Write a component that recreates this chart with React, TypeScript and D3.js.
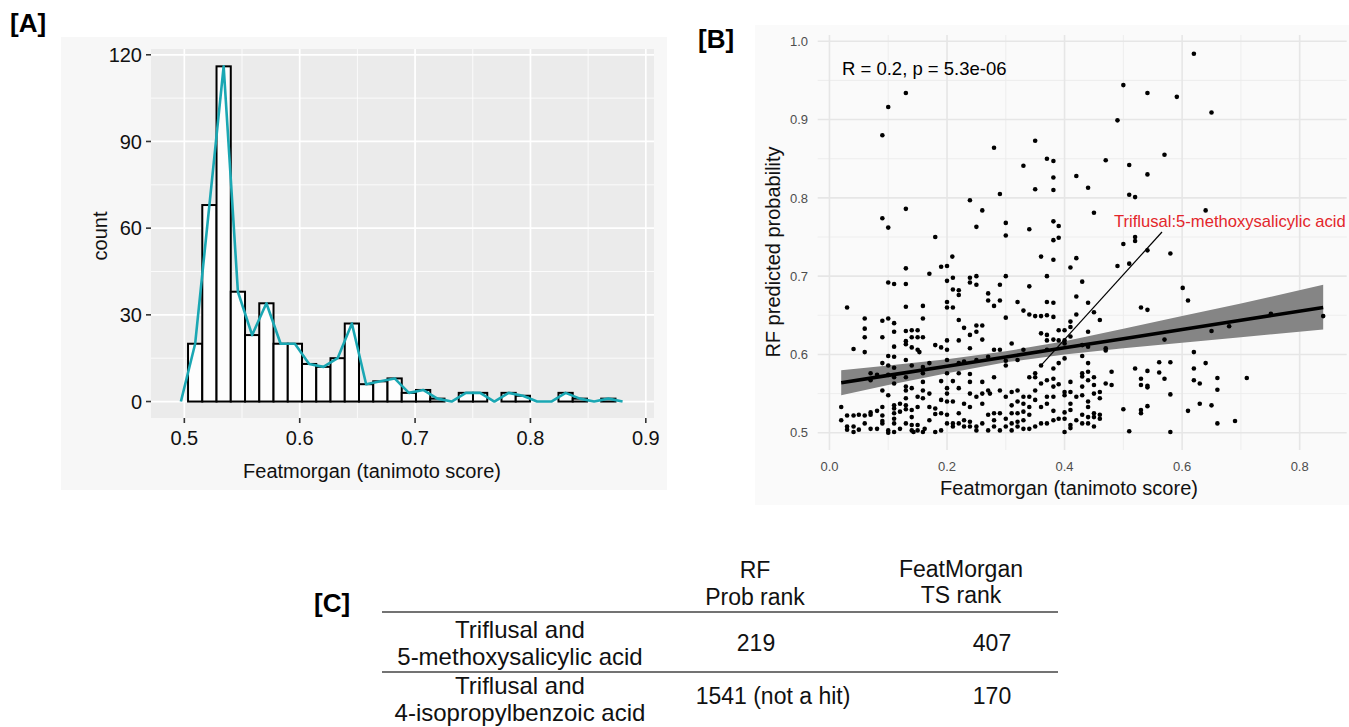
import React from 'react';
import * as d3 from 'd3';

// ---- panel A: histogram of featmorgan scores ----
const histCounts = [20, 68, 116, 38, 23, 34, 20, 20, 13, 12, 15, 27, 6, 7, 8, 3, 4, 1, 0, 3, 3, 0, 3, 2, 0, 0, 3, 1, 0, 1];
const binStart = 0.5032;
const binWidth = 0.01235;
const aXTicks = [0.5, 0.6, 0.7, 0.8, 0.9];
const aYTicks = [0, 30, 60, 90, 120];

// ---- panel B: RF probability vs featmorgan ----
const bXTicks = [0, 0.2, 0.4, 0.6, 0.8];
const bYTicks = [0.5, 0.6, 0.7, 0.8, 0.9, 1.0];
const corrLabel = 'R = 0.2, p = 5.3e-06';
const fitX = [0.02, 0.1, 0.2, 0.3, 0.4, 0.5, 0.6, 0.7, 0.84];
const fitY = [0.564, 0.5733, 0.585, 0.5968, 0.6085, 0.6202, 0.632, 0.6437, 0.6601];
const fitLo = [0.548, 0.561, 0.576, 0.59, 0.6, 0.608, 0.615, 0.622, 0.632];
const fitHi = [0.58, 0.586, 0.594, 0.604, 0.617, 0.633, 0.649, 0.665, 0.689];
const highlightPoint = [0.36, 0.586];
const highlightText = 'Triflusal:5-methoxysalicylic acid';

const scatterPoints = [
  [0.130,0.934],[0.100,0.916],[0.090,0.880],[0.090,0.774],[0.100,0.762],[0.130,0.786],[0.180,0.750],[0.190,0.712],
  [0.200,0.713],[0.209,0.725],[0.130,0.710],[0.239,0.797],[0.260,0.784],[0.250,0.763],[0.280,0.864],[0.290,0.805],
  [0.300,0.768],[0.300,0.752],[0.330,0.841],[0.350,0.873],[0.350,0.811],[0.370,0.850],[0.340,0.760],[0.360,0.725],
  [0.620,0.984],[0.500,0.944],[0.541,0.934],[0.591,0.929],[0.650,0.909],[0.490,0.899],[0.381,0.847],[0.470,0.848],
  [0.510,0.842],[0.570,0.855],[0.381,0.826],[0.420,0.828],[0.541,0.830],[0.381,0.810],[0.440,0.813],[0.510,0.804],
  [0.520,0.801],[0.450,0.781],[0.640,0.784],[0.381,0.770],[0.390,0.764],[0.381,0.746],[0.390,0.749],[0.500,0.741],
  [0.520,0.750],[0.520,0.745],[0.541,0.733],[0.580,0.729],[0.381,0.721],[0.420,0.723],[0.410,0.711],[0.490,0.713],
  [0.510,0.716],
  [0.030,0.660],[0.041,0.607],[0.020,0.533],[0.020,0.516],[0.030,0.522],[0.041,0.522],[0.050,0.523],[0.030,0.508],
  [0.041,0.508],[0.041,0.501],[0.030,0.504],[0.050,0.504],[0.060,0.646],[0.060,0.633],[0.060,0.622],[0.060,0.603],
  [0.060,0.512],[0.060,0.522],[0.070,0.576],[0.070,0.567],[0.070,0.526],[0.070,0.523],[0.070,0.505],[0.081,0.574],
  [0.081,0.528],[0.081,0.505],[0.090,0.643],[0.090,0.622],[0.090,0.589],[0.090,0.554],[0.090,0.533],[0.090,0.522],
  [0.090,0.515],[0.090,0.512],[0.100,0.692],[0.100,0.646],[0.100,0.598],[0.100,0.586],[0.100,0.574],[0.100,0.548],
  [0.100,0.503],[0.100,0.500],[0.110,0.690],[0.110,0.640],[0.110,0.629],[0.110,0.610],[0.110,0.597],[0.110,0.583],
  [0.110,0.571],[0.110,0.563],[0.110,0.535],[0.110,0.531],[0.110,0.525],[0.110,0.518],[0.110,0.512],[0.110,0.501],
  [0.120,0.537],[0.120,0.527],[0.120,0.505],[0.130,0.690],[0.130,0.661],[0.130,0.630],[0.130,0.617],[0.130,0.613],
  [0.130,0.593],[0.130,0.571],[0.130,0.559],[0.130,0.554],[0.130,0.544],[0.130,0.535],[0.130,0.530],[0.130,0.512],
  [0.140,0.631],[0.140,0.622],[0.140,0.609],[0.140,0.586],[0.140,0.557],[0.140,0.529],[0.140,0.520],[0.140,0.510],
  [0.140,0.503],[0.143,0.501],[0.150,0.631],[0.150,0.622],[0.150,0.606],[0.153,0.603],[0.150,0.546],[0.150,0.533],
  [0.150,0.510],[0.150,0.503],[0.159,0.662],[0.159,0.646],[0.159,0.622],[0.159,0.584],[0.159,0.576],[0.159,0.565],
  [0.159,0.554],[0.159,0.544],[0.159,0.501],[0.162,0.505],[0.170,0.703],[0.170,0.589],[0.170,0.550],[0.170,0.533],
  [0.170,0.516],[0.180,0.612],[0.180,0.531],[0.180,0.524],[0.180,0.501],[0.190,0.609],[0.190,0.566],[0.190,0.542],
  [0.190,0.525],[0.190,0.503],[0.200,0.694],[0.200,0.667],[0.200,0.660],[0.200,0.618],[0.200,0.606],[0.200,0.593],
  [0.200,0.576],[0.200,0.557],[0.200,0.550],[0.200,0.540],[0.200,0.523],[0.200,0.512],[0.210,0.698],[0.210,0.683],
  [0.210,0.660],[0.210,0.566],[0.210,0.540],[0.210,0.512],[0.210,0.508],[0.220,0.682],[0.220,0.676],[0.220,0.644],
  [0.220,0.618],[0.220,0.589],[0.220,0.576],[0.220,0.557],[0.220,0.525],[0.220,0.512],[0.229,0.634],[0.229,0.591],
  [0.229,0.537],[0.229,0.516],[0.229,0.508],[0.239,0.698],[0.239,0.692],[0.239,0.625],[0.239,0.608],[0.239,0.575],
  [0.239,0.565],[0.239,0.550],[0.239,0.533],[0.239,0.514],[0.239,0.508],[0.250,0.700],[0.250,0.689],[0.250,0.637],
  [0.250,0.629],[0.250,0.593],[0.250,0.546],[0.250,0.508],[0.250,0.503],[0.260,0.637],[0.260,0.619],[0.260,0.565],
  [0.260,0.550],[0.260,0.537],[0.260,0.512],[0.270,0.678],[0.270,0.669],[0.270,0.597],[0.270,0.554],[0.273,0.550],
  [0.270,0.523],[0.270,0.503],[0.280,0.662],[0.280,0.606],[0.280,0.571],[0.280,0.525],[0.280,0.516],[0.280,0.508],
  [0.290,0.689],[0.290,0.669],[0.290,0.606],[0.290,0.554],[0.290,0.525],[0.290,0.503],[0.300,0.700],[0.300,0.647],
  [0.300,0.592],[0.300,0.586],[0.300,0.546],[0.300,0.518],[0.300,0.508],[0.310,0.614],[0.310,0.552],[0.310,0.535],
  [0.310,0.525],[0.310,0.512],[0.310,0.503],[0.320,0.667],[0.320,0.593],[0.320,0.554],[0.320,0.540],[0.320,0.525],
  [0.320,0.514],[0.320,0.508],[0.330,0.656],[0.330,0.606],[0.330,0.546],[0.330,0.537],[0.330,0.527],[0.330,0.516],
  [0.330,0.505],[0.340,0.687],[0.340,0.651],[0.340,0.571],[0.340,0.546],[0.340,0.533],[0.340,0.523],[0.340,0.505],
  [0.350,0.649],[0.350,0.576],[0.350,0.571],[0.350,0.554],[0.350,0.542],[0.350,0.508],[0.360,0.649],[0.360,0.627],
  [0.360,0.586],[0.360,0.563],[0.360,0.533],[0.360,0.512],[0.370,0.700],[0.370,0.667],[0.370,0.650],[0.370,0.625],
  [0.370,0.618],[0.370,0.606],[0.370,0.567],[0.370,0.546],[0.370,0.537],[0.370,0.512],
  [0.381,0.666],[0.381,0.648],[0.381,0.619],[0.381,0.582],[0.381,0.569],[0.381,0.559],[0.381,0.546],[0.381,0.528],
  [0.381,0.516],[0.390,0.631],[0.390,0.618],[0.390,0.589],[0.390,0.562],[0.390,0.518],[0.400,0.631],[0.400,0.618],
  [0.400,0.614],[0.400,0.595],[0.400,0.552],[0.400,0.548],[0.400,0.526],[0.400,0.518],[0.400,0.501],[0.410,0.642],
  [0.410,0.635],[0.410,0.623],[0.410,0.565],[0.410,0.552],[0.410,0.537],[0.410,0.529],[0.410,0.510],[0.410,0.506],
  [0.420,0.674],[0.420,0.651],[0.420,0.546],[0.420,0.516],[0.430,0.693],[0.430,0.612],[0.430,0.598],[0.430,0.576],
  [0.430,0.572],[0.430,0.559],[0.430,0.548],[0.430,0.523],[0.430,0.512],[0.440,0.666],[0.440,0.629],[0.440,0.610],
  [0.440,0.589],[0.440,0.578],[0.440,0.567],[0.440,0.540],[0.440,0.533],[0.440,0.520],[0.440,0.512],[0.450,0.654],
  [0.450,0.571],[0.450,0.561],[0.450,0.550],[0.450,0.525],[0.450,0.520],[0.450,0.508],[0.460,0.644],[0.460,0.552],
  [0.460,0.544],[0.460,0.523],[0.460,0.518],[0.470,0.608],[0.470,0.605],[0.470,0.563],[0.480,0.578],[0.480,0.561],
  [0.500,0.530],[0.510,0.502],[0.520,0.582],[0.530,0.660],[0.530,0.569],[0.530,0.561],[0.530,0.529],[0.530,0.525],
  [0.541,0.657],[0.541,0.579],[0.541,0.560],[0.541,0.558],[0.541,0.534],[0.561,0.590],[0.561,0.577],[0.570,0.619],
  [0.570,0.569],[0.580,0.590],[0.580,0.549],[0.580,0.501],[0.601,0.685],[0.610,0.669],[0.610,0.528],[0.620,0.603],
  [0.620,0.582],[0.620,0.567],[0.630,0.563],[0.630,0.537],[0.640,0.589],[0.650,0.630],[0.650,0.535],[0.660,0.570],
  [0.660,0.555],[0.660,0.512],[0.680,0.636],[0.690,0.515],[0.710,0.570],[0.751,0.652],[0.840,0.649],
];

// ---- panel C: table ----
const tableHeaderRF = ['RF', 'Prob rank'];
const tableHeaderTS = ['FeatMorgan', 'TS rank'];
const tablePairs = [
  ['Triflusal and', '5-methoxysalicylic acid'],
  ['Triflusal and', '4-isopropylbenzoic acid'],
];
const rfRanks = ['219', '1541 (not a hit)'];
const tsRanks = ['407', '170'];

const FONT = '"Liberation Sans", Arial, Helvetica, sans-serif';

function PanelA() {
  const x = d3.scaleLinear().domain([0.4711, 0.9071]).range([151, 654]);
  const y = d3.scaleLinear().domain([-5.7, 122]).range([418, 49]);
  const [x0, x1] = x.range();
  const [y0, y1] = y.range();
  const xMinor = [0.55, 0.65, 0.75, 0.85];
  const yMinor = [15, 45, 75, 105];

  const bins = histCounts.map((c, i) => ({ lo: binStart + i * binWidth, hi: binStart + (i + 1) * binWidth, c }));
  const polyPts = [0, ...histCounts, 0].map((c, i) => [binStart + (i - 0.5) * binWidth, c] as [number, number]);
  const poly = d3.line<[number, number]>().x(d => x(d[0])).y(d => y(d[1]))(polyPts) || '';

  return (
    <g>
      <rect x={61} y={37} width={606} height={453} fill="#f7f7f7" />
      <rect x={x0} y={y1} width={x1 - x0} height={y0 - y1} fill="#ebebeb" />
      {xMinor.map(t => <line key={'xm' + t} x1={x(t)} x2={x(t)} y1={y1} y2={y0} stroke="#fff" strokeWidth={0.8} />)}
      {yMinor.map(t => <line key={'ym' + t} x1={x0} x2={x1} y1={y(t)} y2={y(t)} stroke="#fff" strokeWidth={0.8} />)}
      {aXTicks.map(t => <line key={'xg' + t} x1={x(t)} x2={x(t)} y1={y1} y2={y0} stroke="#fff" strokeWidth={1.7} />)}
      {aYTicks.map(t => <line key={'yg' + t} x1={x0} x2={x1} y1={y(t)} y2={y(t)} stroke="#fff" strokeWidth={1.7} />)}
      {bins.map((b, i) => (
        <rect key={i} x={x(b.lo)} y={y(b.c)} width={x(b.hi) - x(b.lo)} height={y(0) - y(b.c)}
          fill="#fdfdfd" stroke="#000" strokeWidth={2} />
      ))}
      <path d={poly} fill="none" stroke="#1aa7b3" strokeWidth={2.6} strokeLinejoin="round" />
      {aYTicks.map(t => (
        <g key={'yt' + t}>
          <line x1={x0 - 5} x2={x0} y1={y(t)} y2={y(t)} stroke="#333" strokeWidth={1.6} />
          <text x={x0 - 9} y={y(t)} dy="0.36em" textAnchor="end" fontSize={20} fill="#111">{t}</text>
        </g>
      ))}
      {aXTicks.map(t => (
        <g key={'xt' + t}>
          <line x1={x(t)} x2={x(t)} y1={y0} y2={y0 + 5} stroke="#333" strokeWidth={1.6} />
          <text x={x(t)} y={445} textAnchor="middle" fontSize={20} fill="#111">{d3.format('.1f')(t)}</text>
        </g>
      ))}
      <text x={372} y={478} textAnchor="middle" fontSize={20} fill="#111">Featmorgan (tanimoto score)</text>
      <text transform="translate(107,236) rotate(-90)" textAnchor="middle" fontSize={20} fill="#111">count</text>
    </g>
  );
}

function PanelB() {
  const x = d3.scaleLinear().domain([-0.02, 0.88]).range([817.7, 1346.7]);
  const y = d3.scaleLinear().domain([0.478, 1.008]).range([450, 35]);
  const [x0, x1] = x.range();
  const [y0, y1] = y.range();
  const xMinor = [0.1, 0.3, 0.5, 0.7];
  const yMinor = [0.55, 0.65, 0.75, 0.85, 0.95];

  const band = d3.area<number>()
    .x((_, i) => x(fitX[i]))
    .y0((_, i) => y(fitLo[i]))
    .y1((_, i) => y(fitHi[i]))(fitX) || '';
  const fit = d3.line<number>().x((_, i) => x(fitX[i])).y((_, i) => y(fitY[i]))(fitX) || '';

  return (
    <g>
      <rect x={755} y={25} width={594} height={480} fill="#fafafa" />
      {xMinor.map(t => <line key={'xm' + t} x1={x(t)} x2={x(t)} y1={y1} y2={y0} stroke="#ececec" strokeWidth={0.9} />)}
      {yMinor.map(t => <line key={'ym' + t} x1={x0} x2={x1} y1={y(t)} y2={y(t)} stroke="#ececec" strokeWidth={0.9} />)}
      {bXTicks.map(t => <line key={'xg' + t} x1={x(t)} x2={x(t)} y1={y1} y2={y0} stroke="#e6e6e6" strokeWidth={1.6} />)}
      {bYTicks.map(t => <line key={'yg' + t} x1={x0} x2={x1} y1={y(t)} y2={y(t)} stroke="#e6e6e6" strokeWidth={1.6} />)}
      <path d={band} fill="#858585" />
      {scatterPoints.map((p, i) => <circle key={i} cx={x(p[0])} cy={y(p[1])} r={2.3} fill="#000" />)}
      <path d={fit} fill="none" stroke="#000" strokeWidth={3.6} />
      <line x1={x(highlightPoint[0])} y1={y(highlightPoint[1])} x2={1162} y2={232} stroke="#000" strokeWidth={1.2} />
      <text x={1114} y={227} fontSize={16.6} fill="#e3262b">{highlightText}</text>
      <text x={842} y={75} fontSize={18.5} fill="#000">{corrLabel}</text>
      {bYTicks.map(t => (
        <text key={'yt' + t} x={808} y={y(t)} dy="0.36em" textAnchor="end" fontSize={13} fill="#4d4d4d">{d3.format('.1f')(t)}</text>
      ))}
      {bXTicks.map(t => (
        <text key={'xt' + t} x={x(t)} y={471} textAnchor="middle" fontSize={13} fill="#4d4d4d">{d3.format('.1f')(t)}</text>
      ))}
      <text x={1069} y={495} textAnchor="middle" fontSize={20} fill="#111">Featmorgan (tanimoto score)</text>
      <text transform="translate(780,252) rotate(-90)" textAnchor="middle" fontSize={20} fill="#111">RF predicted probability</text>
    </g>
  );
}

function PanelC() {
  const labelX = 520;
  const rfX = [756, 773];
  const tsX = 992;
  const line1 = [638, 694];
  const line2 = [665, 721];
  const valueY = [651, 704];
  return (
    <g fontSize={23} fill="#111">
      <text x={755} y={578} textAnchor="middle">{tableHeaderRF[0]}</text>
      <text x={755} y={605} textAnchor="middle">{tableHeaderRF[1]}</text>
      <text x={961} y={577} textAnchor="middle">{tableHeaderTS[0]}</text>
      <text x={961} y={603} textAnchor="middle">{tableHeaderTS[1]}</text>
      <line x1={382} x2={1058} y1={612} y2={612} stroke="#444" strokeWidth={1.3} />
      <line x1={382} x2={1058} y1={672} y2={672} stroke="#444" strokeWidth={1.3} />
      {tablePairs.map((pair, i) => (
        <g key={i}>
          <text x={labelX} y={line1[i]} textAnchor="middle" fontSize={24}>{pair[0]}</text>
          <text x={labelX} y={line2[i]} textAnchor="middle" fontSize={24}>{pair[1]}</text>
          <text x={rfX[i]} y={valueY[i]} textAnchor="middle">{rfRanks[i]}</text>
          <text x={tsX} y={valueY[i]} textAnchor="middle">{tsRanks[i]}</text>
        </g>
      ))}
    </g>
  );
}

export default function App() {
  return (
    <svg width={1349} height={727} style={{ position: 'absolute', left: 0, top: 0, background: '#fff' }}
      fontFamily={FONT}>
      <PanelA />
      <PanelB />
      <PanelC />
      <text x={10} y={32} fontSize={26} fontWeight="bold">[A]</text>
      <text x={698} y={48} fontSize={26} fontWeight="bold">[B]</text>
      <text x={314} y={612} fontSize={26} fontWeight="bold">[C]</text>
    </svg>
  );
}
